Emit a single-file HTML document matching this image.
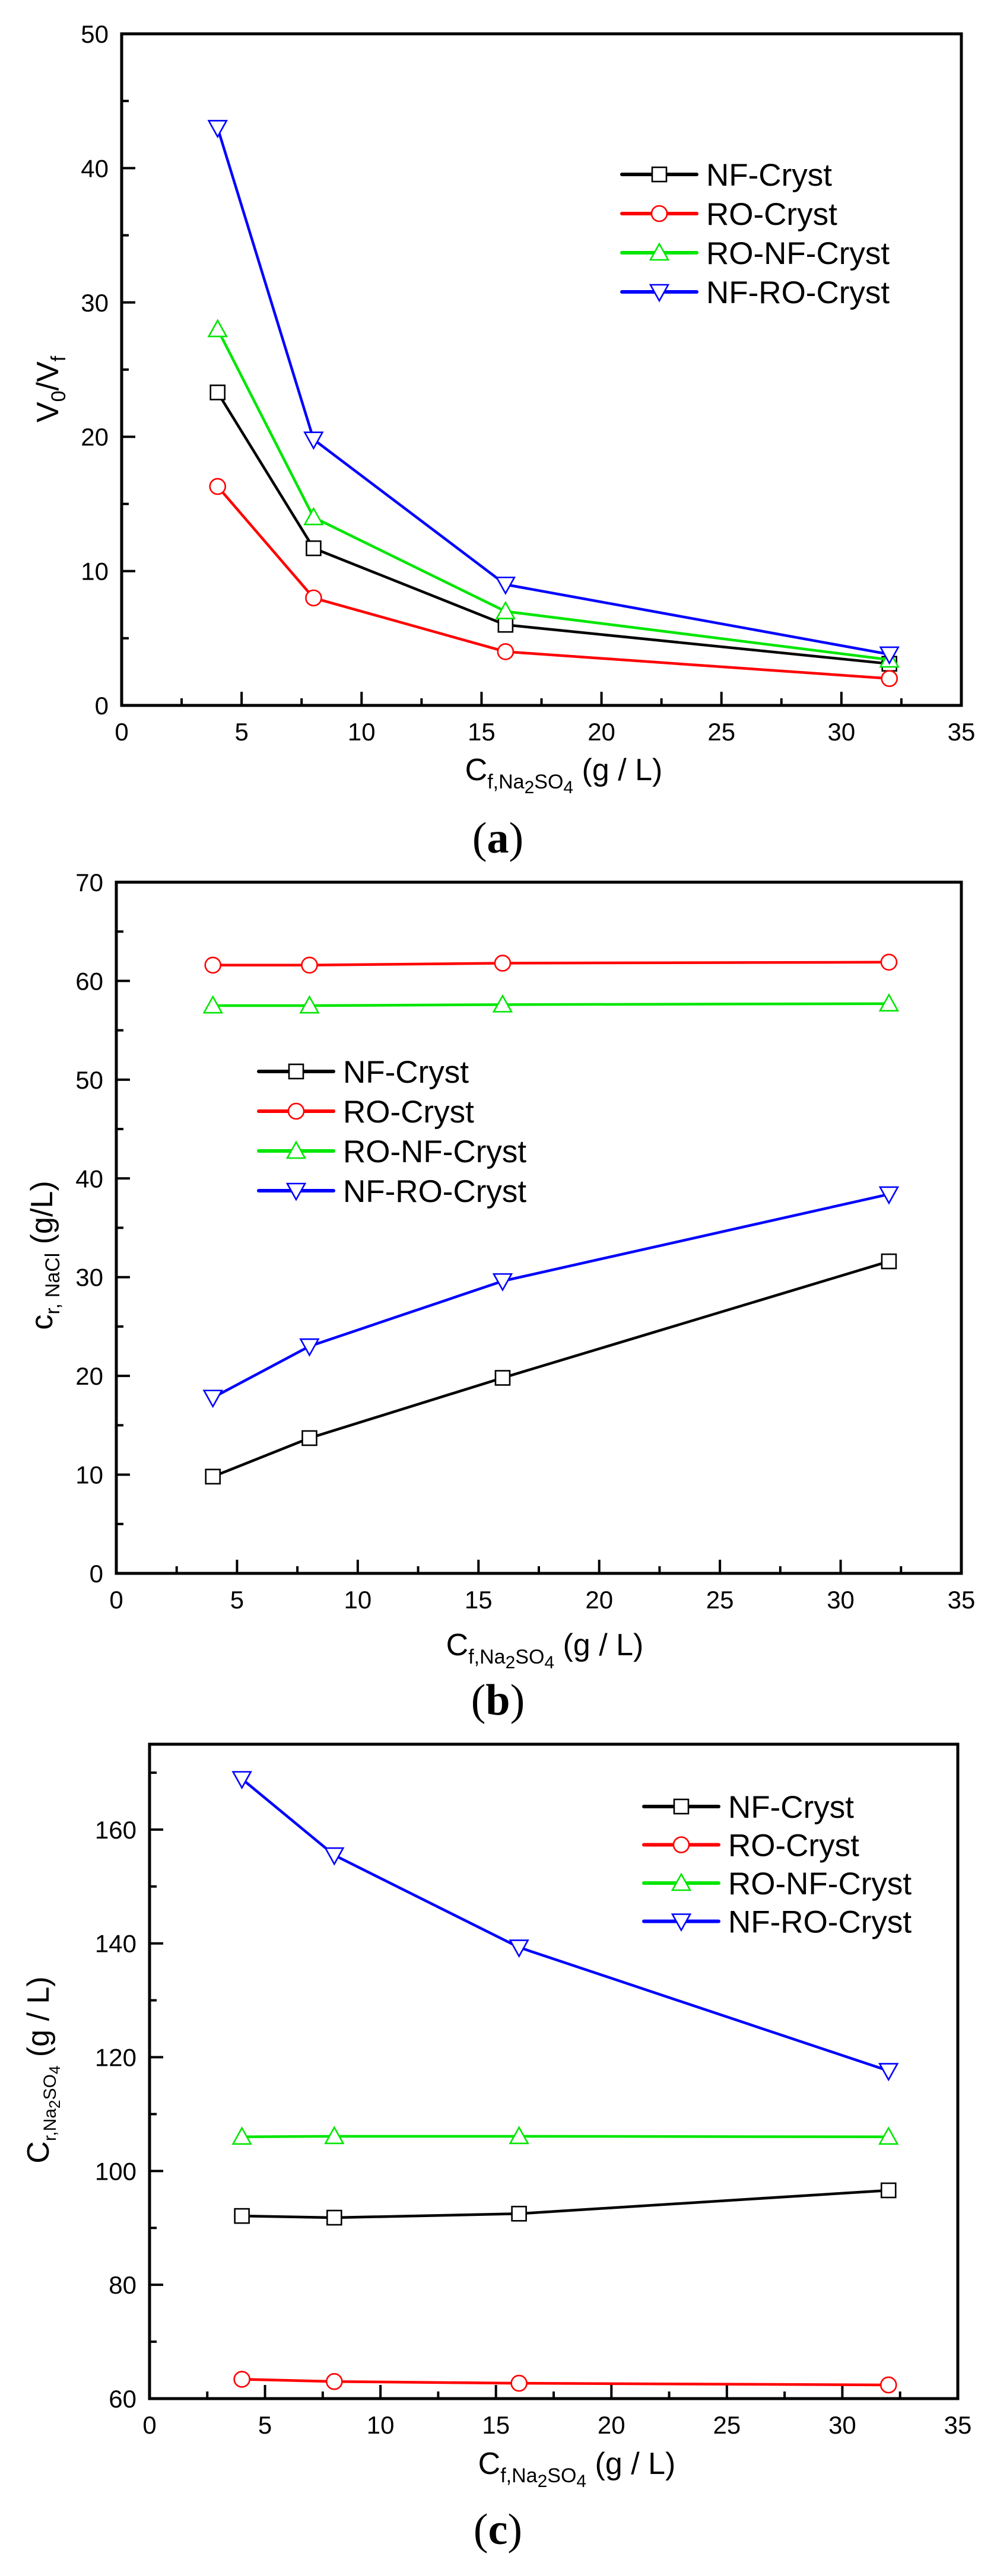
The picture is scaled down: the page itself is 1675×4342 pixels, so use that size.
<!DOCTYPE html>
<html><head><meta charset="utf-8"><style>
html,body{margin:0;padding:0;background:#fff}
svg{display:block;font-family:"Liberation Sans",Arial,sans-serif}
</style></head><body>
<svg id="fig" width="1675" height="4342" viewBox="0 0 1675 4342" xmlns="http://www.w3.org/2000/svg">
<rect width="1675" height="4342" fill="#fff"/>
</svg>
<script>
const categories = [4, 8, 16, 32];
const seriesNames = ["NF-Cryst", "RO-Cryst", "RO-NF-Cryst", "NF-RO-Cryst"];
const seriesColors = ["#000000", "#ff0000", "#00e600", "#0000ff"];
const seriesMarkers = ["square", "circle", "up", "down"];
const xTicks = [0, 5, 10, 15, 20, 25, 30, 35];
// panel a
const aNF = [23.3, 11.7, 6.0, 3.1];
const aRO = [16.3, 8.0, 4.0, 2.0];
const aRONF = [28.0, 14.0, 7.0, 3.4];
const aNFRO = [43.0, 19.8, 9.0, 3.8];
const aYTicks = [0, 10, 20, 30, 40, 50];
// panel b
const bNF = [9.8, 13.7, 19.8, 31.6];
const bRO = [61.6, 61.6, 61.8, 61.9];
const bRONF = [57.5, 57.5, 57.6, 57.7];
const bNFRO = [17.8, 23.0, 29.6, 38.4];
const bYTicks = [0, 10, 20, 30, 40, 50, 60, 70];
// panel c
const cNF = [92.1, 91.8, 92.5, 96.6];
const cRO = [63.4, 63.0, 62.7, 62.4];
const cRONF = [106.0, 106.1, 106.1, 106.0];
const cNFRO = [168.9, 155.5, 139.3, 117.6];
const cYTicks = [60, 80, 100, 120, 140, 160];

const NS = "http://www.w3.org/2000/svg";
const svg = document.getElementById("fig");
function mk(tag, attrs, parent){
  const e = document.createElementNS(NS, tag);
  for (const k in attrs) e.setAttribute(k, attrs[k]);
  (parent||svg).appendChild(e);
  return e;
}
function marker(g, type, x, y, color){
  let e;
  if (type === "square") {
    e = mk("rect", {x:x-12, y:y-12, width:24, height:24, fill:"#fff", stroke:color, "stroke-width":2.6}, g);
  } else if (type === "circle") {
    e = mk("circle", {cx:x, cy:y, r:13, fill:"#fff", stroke:color, "stroke-width":2.6}, g);
  } else if (type === "up") {
    e = mk("polygon", {points:`${x},${y-15} ${x-15},${y+12} ${x+15},${y+12}`, fill:"#fff", stroke:color, "stroke-width":2.6}, g);
  } else {
    e = mk("polygon", {points:`${x},${y+15} ${x-15},${y-12} ${x+15},${y-12}`, fill:"#fff", stroke:color, "stroke-width":2.6}, g);
  }
  return e;
}

function panel(p){
  const g = mk("g", {});
  
  
  const xs = v => p.L + (v - 0) / 35 * (p.R - p.L);
  const ys = v => p.B - (v - p.ymin) / (p.ymax - p.ymin) * (p.B - p.T);
  const tg = mk("g", {stroke:"#000", "stroke-width":4}, g);
  
  
  for (let v = 0; v <= 35; v += 2.5) {
    const major = (v % 5 === 0);
    mk("line", {x1:xs(v), x2:xs(v), y1:p.B, y2:p.B - (major?23:12)}, tg);
  }
  for (let v = p.ymin; v <= p.ymax + 0.001; v += p.minor) {
    const major = ((v - p.ymin) % p.major === 0);
    mk("line", {x1:p.L, x2:p.L + (major?23:12), y1:ys(v), y2:ys(v)}, tg);
  }
  const fr = mk("rect", {x:p.L, y:p.T, width:p.R-p.L, height:p.B-p.T, fill:"none", stroke:"#000", "stroke-width":5}, g);
  
  
  xTicks.forEach(v => {
    const t = mk("text", {x:xs(v), y:p.B + 59, "font-size":42, "text-anchor":"middle"}, g);
    
    
    t.textContent = v;
  });
  p.yTicks.forEach(v => {
    const t = mk("text", {x:p.L - 22, y:ys(v) + 15, "font-size":42, "text-anchor":"end"}, g);
    
    
    t.textContent = v;
  });
  p.series.forEach((vals, i) => {
    const sg = mk("g", {}, g);
    
    
    const pts = vals.map((v, j) => xs(categories[j]) + "," + ys(v)).join(" ");
    mk("polyline", {points:pts, fill:"none", stroke:seriesColors[i], "stroke-width":4.5, "stroke-linejoin":"round"}, sg);
    vals.forEach((v, j) => {
      const m = marker(sg, seriesMarkers[i], xs(categories[j]), ys(v), seriesColors[i]);
      
      
    });
  });
  const lg = mk("g", {}, g);
  
  
  seriesNames.forEach((n, i) => {
    const y = p.legY + i * p.legDy;
    const eg = mk("g", {}, lg);
    
    
    mk("line", {x1:p.legX, x2:p.legX + 126, y1:y, y2:y, stroke:seriesColors[i], "stroke-width":6, "stroke-linecap":"round"}, eg);
    marker(eg, seriesMarkers[i], p.legX + 63, y, seriesColors[i]);
    const t = mk("text", {x:p.legX + 142, y:y + 19, "font-size":53}, eg);
    t.textContent = n;
  });
  const xl = mk("text", {x:p.xlX, y:p.xlY, "font-size":52, "text-anchor":"middle"}, g);
  
  
  xl.innerHTML = 'C<tspan font-size="34" dy="14">f,Na</tspan><tspan font-size="30" dy="8">2</tspan><tspan font-size="34" dy="-8">SO</tspan><tspan font-size="30" dy="8">4</tspan><tspan dy="-22"> (g / L)</tspan>';
  const yl = mk("text", {x:0, y:0, "font-size":52, "text-anchor":"middle", transform:`translate(${p.ylX},${p.ylY}) rotate(-90)`}, g);
  
  
  yl.innerHTML = p.ylHTML;
  const pl = mk("text", {x:839, y:p.letY, "font-size":74, "text-anchor":"middle", "font-family":"'Liberation Serif',serif"}, g);
  
  
  pl.innerHTML = '(<tspan font-weight="bold">' + p.letter + '</tspan>)';
}

panel({name:"chart-a", L:205, R:1620, T:57, B:1189, ymin:0, ymax:50, major:10, minor:5, yTicks:aYTicks,
  series:[aNF, aRO, aRONF, aNFRO], legX:1048, legY:294, legDy:66,
  xlX:950, xlY:1315, ylX:98, ylY:656, ylHTML:'V<tspan font-size="34" dy="12">0</tspan><tspan dy="-12">/V</tspan><tspan font-size="34" dy="12">f</tspan>',
  letY:1437, letter:"a"});
panel({name:"chart-b", L:196, R:1620, T:1487, B:2652, ymin:0, ymax:70, major:10, minor:5, yTicks:bYTicks,
  series:[bNF, bRO, bRONF, bNFRO], legX:436, legY:1806, legDy:67,
  xlX:918, xlY:2790, ylX:88, ylY:2116, ylHTML:'c<tspan font-size="34" dy="12">r, NaCl</tspan><tspan dy="-12"> (g/L)</tspan>',
  letY:2890, letter:"b"});
panel({name:"chart-c", L:252, R:1614, T:2940, B:4043, ymin:60, ymax:175, major:20, minor:10, yTicks:cYTicks,
  series:[cNF, cRO, cRONF, cNFRO], legX:1085, legY:3045, legDy:64.5,
  xlX:972, xlY:4170, ylX:82, ylY:3489, ylHTML:'C<tspan font-size="30" dy="12">r,Na</tspan><tspan font-size="26" dy="7">2</tspan><tspan font-size="30" dy="-7">SO</tspan><tspan font-size="26" dy="7">4</tspan><tspan dy="-19"> (g / L)</tspan>',
  letY:4288, letter:"c"});
</script>
</body></html>
